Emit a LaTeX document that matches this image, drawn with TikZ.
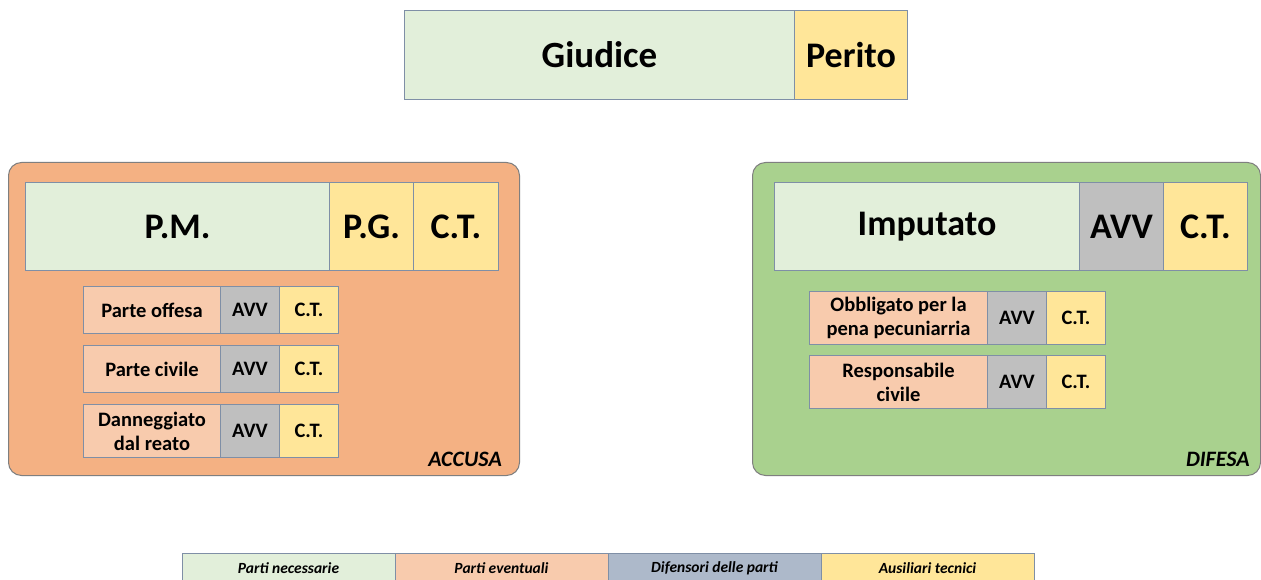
\documentclass[tikz,border=0pt]{standalone}
\usepackage{fontspec}
\setmainfont{Carlito}
\definecolor{necess}{HTML}{E2EFDA}
\definecolor{aus}{HTML}{FFE699}
\definecolor{event}{HTML}{F8CBAD}
\definecolor{difgray}{HTML}{BFBFBF}
\definecolor{difblue}{HTML}{ADB9CA}
\definecolor{accusa}{HTML}{F4B183}
\definecolor{difesa}{HTML}{A9D18E}
\definecolor{cellborder}{HTML}{7F8FA6}
\definecolor{panelborder}{HTML}{7F7F7F}
\tikzset{
  cell/.style={draw=cellborder, line width=1pt, inner sep=0pt, anchor=north west, align=center, text=black},
  big/.style={cell, font=\fontsize{36}{40}\selectfont\bfseries},
  small/.style={cell, font=\fontsize{20.5}{24}\selectfont\bfseries},
  panel/.style={draw=panelborder, line width=1pt, rounded corners=13pt, inner sep=0pt, anchor=north west},
  tag/.style={font=\fontsize{22}{24}\selectfont\bfseries\itshape, anchor=east, inner sep=0pt},
  leg/.style={draw=cellborder, line width=0.8pt, inner sep=0pt, anchor=north west, minimum width=213pt, minimum height=31pt},
  legtext/.style={font=\fontsize{15.5}{18}\selectfont\bfseries\itshape, inner sep=0pt}
}
\begin{document}
\begin{tikzpicture}[x=1pt,y=-1pt]
\clip (0,0) rectangle (1261,580);
\fill[white] (0,0) rectangle (1261,580);
% top
\node[big, fill=necess, minimum width=390pt, minimum height=89pt, font=\fontsize{37}{42}\selectfont\bfseries] (giudice) at (404,10) {Giudice};
\node[big, fill=aus, minimum width=113pt, minimum height=89pt] (perito) at (794,10) {Perito};
% accusa panel
\node[panel, fill=accusa, minimum width=511pt, minimum height=313pt] (accpanel) at (8,162) {};
\node[big, fill=necess, minimum width=304pt, minimum height=88pt] (pm) at (25,182) {P.M.};
\node[big, fill=aus, minimum width=84pt, minimum height=88pt] (pg) at (329,182) {P.G.};
\node[big, fill=aus, minimum width=85pt, minimum height=88pt] (ctpm) at (413,182) {C.T.};
\node[small, fill=event, minimum width=137pt, minimum height=47pt] (offesa) at (83,286) {Parte offesa};
\node[small, fill=difgray, minimum width=59pt, minimum height=47pt] (avvoffesa) at (220,286) {AVV};
\node[small, fill=aus, minimum width=59pt, minimum height=47pt] (ctoffesa) at (279,286) {C.T.};
\node[small, fill=event, minimum width=137pt, minimum height=47pt] (civile) at (83,345) {Parte civile};
\node[small, fill=difgray, minimum width=59pt, minimum height=47pt] (avvcivile) at (220,345) {AVV};
\node[small, fill=aus, minimum width=59pt, minimum height=47pt] (ctcivile) at (279,345) {C.T.};
\node[small, fill=event, minimum width=137pt, minimum height=53pt] (danneg) at (83,404) {Danneggiato\\dal reato};
\node[small, fill=difgray, minimum width=59pt, minimum height=53pt] (avvdanneg) at (220,404) {AVV};
\node[small, fill=aus, minimum width=59pt, minimum height=53pt] (ctdanneg) at (279,404) {C.T.};
\node[tag] (acctag) at (502,459) {ACCUSA};
% difesa panel
\node[panel, fill=difesa, minimum width=508pt, minimum height=313pt] (difpanel) at (752,162) {};
\node[big, fill=necess, minimum width=305pt, minimum height=88pt] (imputato) at (774,182) {Imputato};
\node[big, fill=difgray, minimum width=84pt, minimum height=88pt] (avvimp) at (1079,182) {AVV};
\node[big, fill=aus, minimum width=84pt, minimum height=88pt] (ctimp) at (1163,182) {C.T.};
\node[small, fill=event, minimum width=178pt, minimum height=53pt] (obblig) at (809,291) {Obbligato per la\\pena pecuniarria};
\node[small, fill=difgray, minimum width=59pt, minimum height=53pt] (avvobblig) at (987,291) {AVV};
\node[small, fill=aus, minimum width=59pt, minimum height=53pt] (ctobblig) at (1046,291) {C.T.};
\node[small, fill=event, minimum width=178pt, minimum height=53pt] (respons) at (809,355) {Responsabile\\civile};
\node[small, fill=difgray, minimum width=59pt, minimum height=53pt] (avvrespons) at (987,355) {AVV};
\node[small, fill=aus, minimum width=59pt, minimum height=53pt] (ctrespons) at (1046,355) {C.T.};
\node[tag] (diftag) at (1250,459) {DIFESA};
% legend
\node[leg, fill=necess] (leg1) at (182,553) {};
\node[leg, fill=event] (leg2) at (395,553) {};
\node[leg, fill=difblue] (leg3) at (608,553) {};
\node[leg, fill=aus] (leg4) at (821,553) {};
\node[legtext] (legt1) at (288.5,568) {Parti necessarie};
\node[legtext] (legt2) at (501.5,568) {Parti eventuali};
\node[legtext] (legt3) at (714.5,568) {Difensori delle parti};
\node[legtext] (legt4) at (927.5,568) {Ausiliari tecnici};
\end{tikzpicture}
\end{document}
